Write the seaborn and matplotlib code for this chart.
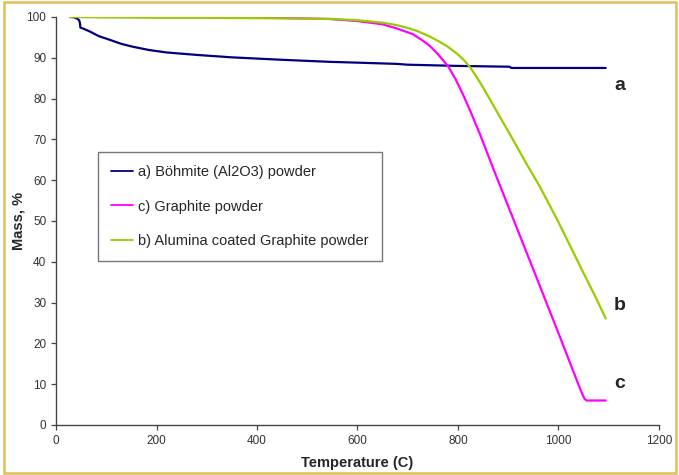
import matplotlib
matplotlib.use("Agg")
import matplotlib.pyplot as plt
import pandas as pd
import seaborn as sns
from matplotlib.patches import Rectangle

# a) Böhmite (Al2O3) powder
temp_a = [28, 36, 42, 46, 47.5, 48.5, 55, 68, 85, 107, 130, 153, 185, 220, 280, 350, 400,
          450, 545, 600, 678, 700, 800, 903, 906, 943, 1000, 1094]
mass_a = [100.0, 99.9, 99.6, 99.2, 98.6, 97.4, 97.1, 96.4, 95.3, 94.4, 93.4, 92.7, 91.9,
          91.3, 90.7, 90.1, 89.8, 89.5, 89.0, 88.8, 88.5, 88.3, 88.0, 87.8, 87.5, 87.5,
          87.5, 87.5]

# c) Graphite powder
temp_c = [28, 45, 50, 55, 300, 412, 420, 545, 600, 650, 678, 710, 730, 744, 760, 781, 795,
          810, 825, 844, 870, 900, 960, 1000, 1043, 1048, 1052, 1056, 1094]
mass_c = [100.0, 100.0, 100.2, 100.0, 100.0, 100.0, 99.8, 99.5, 99.0, 98.2, 97.2, 95.8,
          94.2, 92.9, 90.9, 87.8, 84.8, 81.0, 76.8, 71.2, 62.9, 53.6, 35.0, 22.5, 8.9,
          7.4, 6.4, 6.0, 6.0]

# b) Alumina coated Graphite powder
temp_b = [28, 100, 200, 300, 400, 500, 550, 600, 650, 678, 700, 720, 744, 765, 780, 800,
          812, 824, 837, 850, 877, 910, 935, 963, 1000, 1050, 1076, 1094]
mass_b = [100.0, 99.9, 99.8, 99.8, 99.7, 99.6, 99.5, 99.2, 98.6, 98.0, 97.3, 96.5, 95.2,
          93.8, 92.7, 90.8, 89.4, 87.7, 85.3, 82.7, 76.9, 69.8, 64.3, 58.4, 49.7, 37.2,
          30.8, 26.1]

names = ["a) Böhmite (Al2O3) powder", "c) Graphite powder", "b) Alumina coated Graphite powder"]
colors = ["#000080", "#FF00FF", "#99CC00"]
end_labels = ["a", "c", "b"]
end_values = [83.3, 10.2, 29.4]

frames = []
for name, t, m in [(names[0], temp_a, mass_a), (names[1], temp_c, mass_c), (names[2], temp_b, mass_b)]:
    frames.append(pd.DataFrame({"Temperature": t, "Mass": m, "Sample": name}))
data = pd.concat(frames, ignore_index=True)

sns.set_style("ticks")
plt.rcParams["font.family"] = ["Liberation Sans", "DejaVu Sans"]

fig = plt.figure(figsize=(6.79, 4.75), dpi=100)
ax = fig.add_axes([0.0825, 0.1053, 0.888, 0.859])

sns.lineplot(data=data, x="Temperature", y="Mass", hue="Sample", hue_order=names,
             palette=colors, estimator=None, sort=False, linewidth=1.6, ax=ax)

ax.set_xlim(0, 1200)
ax.set_ylim(0, 100)
ax.set_xticks(range(0, 1201, 200))
ax.set_yticks(range(0, 101, 10))
ax.tick_params(labelsize=8.5, labelcolor="#333333", length=3.5, width=0.9, color="#444444")
for side in ["left", "bottom"]:
    ax.spines[side].set_color("#444444")
    ax.spines[side].set_linewidth(1.0)
sns.despine(ax=ax)

ax.set_xlabel("Temperature (C)", fontsize=10.5, fontweight="bold", labelpad=7)
ax.set_ylabel("Mass, %", fontsize=10.5, fontweight="bold", labelpad=1)

# end-of-curve letters
for lab, v in zip(end_labels, end_values):
    ax.text(1122, v, lab, fontsize=14, fontweight="bold", ha="center", va="center")

leg = ax.legend(loc="upper left", bbox_to_anchor=(0.0697, 0.669), borderaxespad=0,
                fontsize=10.5, frameon=True, fancybox=False, handlelength=1.5,
                handletextpad=0.35, labelspacing=1.4, borderpad=0.9)
leg.get_frame().set_edgecolor("#555555")
leg.get_frame().set_linewidth(1.0)
for line in leg.get_lines():
    line.set_linewidth(1.3)

fig.patches.append(Rectangle((0.006, 0.004), 0.99, 0.992, transform=fig.transFigure,
                             fill=False, edgecolor="#E3BF55", linewidth=1.8))

fig.savefig("out.png", dpi=100)
